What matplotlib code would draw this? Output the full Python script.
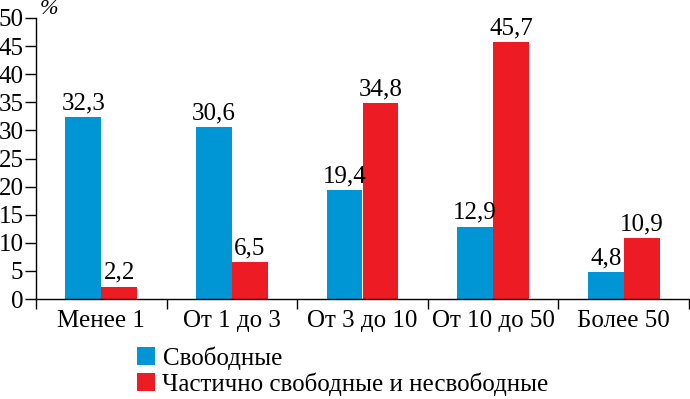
import matplotlib
matplotlib.use("Agg")
import matplotlib.pyplot as plt
import numpy as np
from matplotlib.patches import Patch

categories = ["Менее 1", "От 1 до 3", "От 3 до 10", "От 10 до 50", "Более 50"]
free_vals = [32.3, 30.6, 19.4, 12.9, 4.8]
partial_vals = [2.2, 6.5, 34.8, 45.7, 10.9]
series_names = ["Свободные", "Частично свободные и несвободные"]
y_ticks = list(range(0, 55, 5))

blue = "#0096D6"
red = "#ED1C24"

plt.rcParams['font.family'] = ['Liberation Serif', 'DejaVu Serif']
FS = 18

fig = plt.figure(figsize=(6.9, 3.99), dpi=100)
ax = fig.add_axes([36/690, 1-299/399, (689-36)/690, (299-18)/399])

x = np.arange(len(categories))
w = 0.275
b1 = ax.bar(x - w/2, free_vals, w, color=blue)
b2 = ax.bar(x + w/2, partial_vals, w, color=red)

def fmt(v):
    return f"{v:.1f}".replace(".", ",")

for bars, vals in ((b1, free_vals), (b2, partial_vals)):
    for r, v in zip(bars, vals):
        ax.annotate(fmt(v), (r.get_x() + r.get_width()/2, v), xytext=(0, 2),
                    textcoords="offset points", ha="center", va="bottom", fontsize=FS)

ax.set_xlim(-0.5, len(categories) - 0.5)
ax.set_ylim(0, 50)
ax.set_yticks(y_ticks)
ax.set_yticklabels([str(t) for t in y_ticks])
ax.set_xticks(np.arange(len(categories) + 1) - 0.5)
ax.set_xticklabels([])
ax.set_xticks(x, minor=True)
ax.set_xticklabels(categories, minor=True)
ax.tick_params(axis='x', which='major', direction='out', length=7, width=1)
ax.tick_params(axis='x', which='minor', length=0, pad=8, labelsize=FS)
ax.tick_params(axis='y', direction='out', length=8, width=1, labelsize=FS, pad=1)
for s in ("top", "right"):
    ax.spines[s].set_visible(False)
ax.spines['left'].set_linewidth(1)
ax.spines['bottom'].set_linewidth(1)

ax.text(0.006, 0.995, "%", transform=ax.transAxes, fontsize=16, style='italic', ha='left', va='bottom')

handles = [Patch(facecolor=blue), Patch(facecolor=red)]
fig.legend(handles, series_names, loc='upper left', bbox_to_anchor=(137/690, 1-346/399),
           frameon=False, fontsize=FS, handlelength=0.72, handleheight=0.72,
           handletextpad=0.3, labelspacing=0.12, borderpad=0, borderaxespad=0)

fig.savefig("out.png", dpi=100)
